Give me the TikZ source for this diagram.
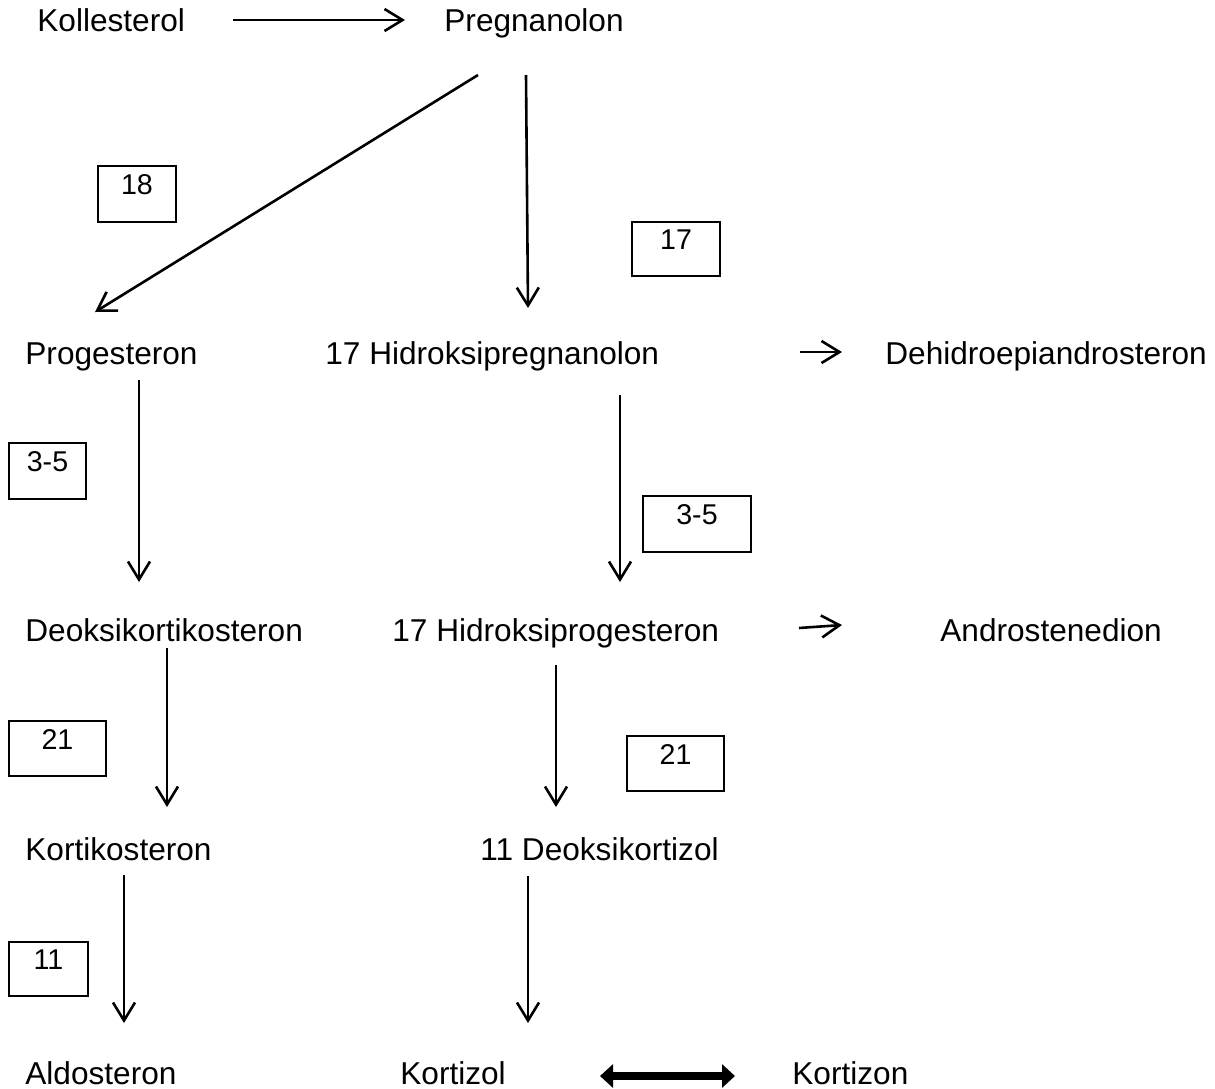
\documentclass[tikz,border=0pt]{standalone}
\usepackage{fontspec}
\setmainfont{Liberation Sans}
\usetikzlibrary{arrows.meta}
\tikzset{
  term/.style={anchor=base west, inner sep=0pt, font=\fontsize{15.8}{19}\selectfont},
  ebox/.style={draw, line width=1.3pt, inner sep=0pt},
  elbl/.style={anchor=north, inner sep=0pt, yshift=-4.5pt, font=\fontsize{14.3}{17}\selectfont},
  conv/.style={line width=1.3pt, -{Straight Barb[length=9pt,width=11pt]}},
  equil/.style={line width=4pt, {Triangle[length=6.5pt,width=11.5pt]}-{Triangle[length=6.5pt,width=11.5pt]}}
}
\begin{document}
\begin{tikzpicture}[x=0.5pt,y=-0.5pt]
\useasboundingbox (0,0) rectangle (1215,1088);
% compounds
\node[term] (kol) at (37,31) {Kollesterol};
\node[term] (pre) at (444,31) {Pregnanolon};
\node[term] (prog) at (25,364) {Progesteron};
\node[term] (hpre) at (325,364) {17 Hidroksipregnanolon};
\node[term] (dhea) at (885,364) {Dehidroepiandrosteron};
\node[term] (doc) at (25,641) {Deoksikortikosteron};
\node[term] (hprog) at (392,641) {17 Hidroksiprogesteron};
\node[term] (andr) at (940,641) {Androstenedion};
\node[term] (kort) at (25,860) {Kortikosteron};
\node[term] (dkz) at (480,860) {11 Deoksikortizol};
\node[term] (ald) at (25,1084) {Aldosteron};
\node[term] (kzl) at (400,1084) {Kortizol};
\node[term] (kzn) at (792,1084) {Kortizon};
% enzyme boxes
\node[ebox, minimum width=39pt, minimum height=28pt, label={[elbl]north:18}] (b18) at (137,194) {};
\node[ebox, minimum width=44pt, minimum height=27pt, label={[elbl]north:17}] (b17) at (676,249) {};
\node[ebox, minimum width=38.5pt, minimum height=28pt, label={[elbl]north:3-5}] (b35l) at (47.5,471) {};
\node[ebox, minimum width=54pt, minimum height=28pt, label={[elbl]north:3-5}] (b35r) at (697,524) {};
\node[ebox, minimum width=48.5pt, minimum height=27.5pt, label={[elbl]north:21}] (b21l) at (57.5,748.5) {};
\node[ebox, minimum width=48.5pt, minimum height=27.5pt, label={[elbl]north:21}] (b21r) at (675.5,763.5) {};
\node[ebox, minimum width=39.5pt, minimum height=27pt, label={[elbl]north:11}] (b11) at (48.5,969) {};
% arrow end points
\coordinate (a1s) at (233,20);   \coordinate (a1e) at (405,20);
\coordinate (a2s) at (478,75);   \coordinate (a2e) at (95,312);
\coordinate (a3s) at (526,75);   \coordinate (a3e) at (528,308);
\coordinate (a4s) at (800,352);  \coordinate (a4e) at (842,352);
\coordinate (a5s) at (139,380);  \coordinate (a5e) at (139,582);
\coordinate (a6s) at (620,395);  \coordinate (a6e) at (620,582);
\coordinate (a7s) at (799,628);  \coordinate (a7e) at (842,625);
\coordinate (a8s) at (167,648);  \coordinate (a8e) at (167,807);
\coordinate (a9s) at (556,665);  \coordinate (a9e) at (556,807);
\coordinate (a10s) at (124,875); \coordinate (a10e) at (124,1023);
\coordinate (a11s) at (528,876); \coordinate (a11e) at (528,1023);
\coordinate (a12s) at (600,1076); \coordinate (a12e) at (735,1076);
% connectors
\draw[conv] (a1s) -- (a1e);
\draw[conv] (a2s) -- (a2e);
\draw[conv] (a3s) -- (a3e);
\draw[conv] (a4s) -- (a4e);
\draw[conv] (a5s) -- (a5e);
\draw[conv] (a6s) -- (a6e);
\draw[conv] (a7s) -- (a7e);
\draw[conv] (a8s) -- (a8e);
\draw[conv] (a9s) -- (a9e);
\draw[conv] (a10s) -- (a10e);
\draw[conv] (a11s) -- (a11e);
\draw[equil] (a12s) -- (a12e);
\end{tikzpicture}
\end{document}
